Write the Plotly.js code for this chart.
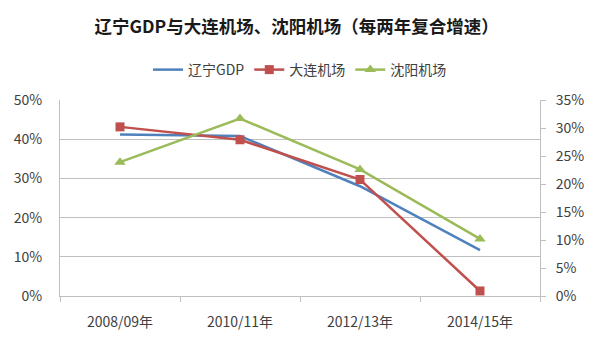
<!DOCTYPE html>
<html>
<head>
<meta charset="utf-8">
<script src="https://cdn.plot.ly/plotly-3.0.1.min.js"></script>
<style>html,body{margin:0;padding:0;background:#fff;}#chart{width:600px;height:352px;}</style>
</head>
<body>
<div id="chart"></div>
<script>
const categories = ['2008/09年', '2010/11年', '2012/13年', '2014/15年'];
const gdpLiaoning = [41.2, 40.8, 28.0, 11.7];      // left axis (%)
const dalianAirport = [30.2, 27.9, 20.8, 0.9];     // right axis (%)
const shenyangAirport = [23.9, 31.7, 22.6, 10.2];  // right axis (%)
const leftRange = [0, 50];
const leftStep = 10;
const rightRange = [0, 35];
const rightStep = 5;

const FONT = '"Noto Sans CJK SC", "Microsoft YaHei", sans-serif';
const TXT = '#404040';
const GRID = '#bfbfbf';

const traces = [
  {
    type: 'scatter', mode: 'lines', name: '辽宁GDP',
    x: categories, y: gdpLiaoning, xaxis: 'x', yaxis: 'y',
    line: {color: '#4F81BD', width: 2.5}
  },
  {
    type: 'scatter', mode: 'lines+markers', name: '大连机场',
    x: categories, y: dalianAirport, xaxis: 'x', yaxis: 'y2',
    line: {color: '#C0504D', width: 2.5},
    marker: {symbol: 'square', size: 9, color: '#C0504D'}
  },
  {
    type: 'scatter', mode: 'lines+markers', name: '沈阳机场',
    x: categories, y: shenyangAirport, xaxis: 'x', yaxis: 'y2',
    line: {color: '#9BBB59', width: 2.5},
    marker: {symbol: 'triangle-up', size: 10, color: '#9BBB59'}
  }
];

const layout = {
  width: 600, height: 352,
  margin: {l: 60, r: 60, t: 100, b: 56, pad: 0},
  paper_bgcolor: '#ffffff', plot_bgcolor: '#ffffff',
  font: {family: FONT, color: TXT, size: 14},
  title: {
    text: '<b>辽宁GDP与大连机场、沈阳机场（每两年复合增速）</b>',
    font: {family: FONT, size: 17.5, color: '#1a1a1a'},
    x: 0.493, xanchor: 'center', xref: 'paper',
    y: 1 - 27 / 352, yanchor: 'middle', yref: 'container'
  },
  showlegend: true,
  legend: {
    orientation: 'h', x: 0.5, xanchor: 'center', y: 1.153, yanchor: 'middle',
    font: {family: FONT, size: 14, color: TXT},
    itemwidth: 30, tracegroupgap: 0, bgcolor: 'rgba(0,0,0,0)'
  },
  xaxis: {
    type: 'category', categoryorder: 'array', categoryarray: categories,
    range: [-0.5, 3.5],
    showline: true, linecolor: GRID, linewidth: 1,
    showgrid: false, zeroline: false,
    ticks: 'outside', ticklen: 5, tickcolor: GRID, tickwidth: 1,
    tickson: 'boundaries',
    tickfont: {family: FONT, size: 14, color: TXT},
    ticklabelstandoff: 13
  },
  yaxis: {
    range: leftRange, tickmode: 'linear', tick0: 0, dtick: leftStep, ticksuffix: '%',
    showline: true, linecolor: GRID, linewidth: 1,
    showgrid: true, gridcolor: GRID, gridwidth: 1, zeroline: false,
    ticks: '', tickfont: {family: FONT, size: 14, color: TXT},
    ticklabelstandoff: 14
  },
  yaxis2: {
    overlaying: 'y', side: 'right', anchor: 'x',
    range: rightRange, tickmode: 'linear', tick0: 0, dtick: rightStep, ticksuffix: '%',
    showline: true, linecolor: GRID, linewidth: 1,
    showgrid: false, zeroline: false,
    ticks: 'outside', ticklen: 5, tickcolor: GRID, tickwidth: 1,
    tickfont: {family: FONT, size: 14, color: TXT},
    ticklabelstandoff: 7
  },
  hovermode: false
};

Plotly.newPlot('chart', traces, layout, {displayModeBar: false, staticPlot: true});
</script>
</body>
</html>
